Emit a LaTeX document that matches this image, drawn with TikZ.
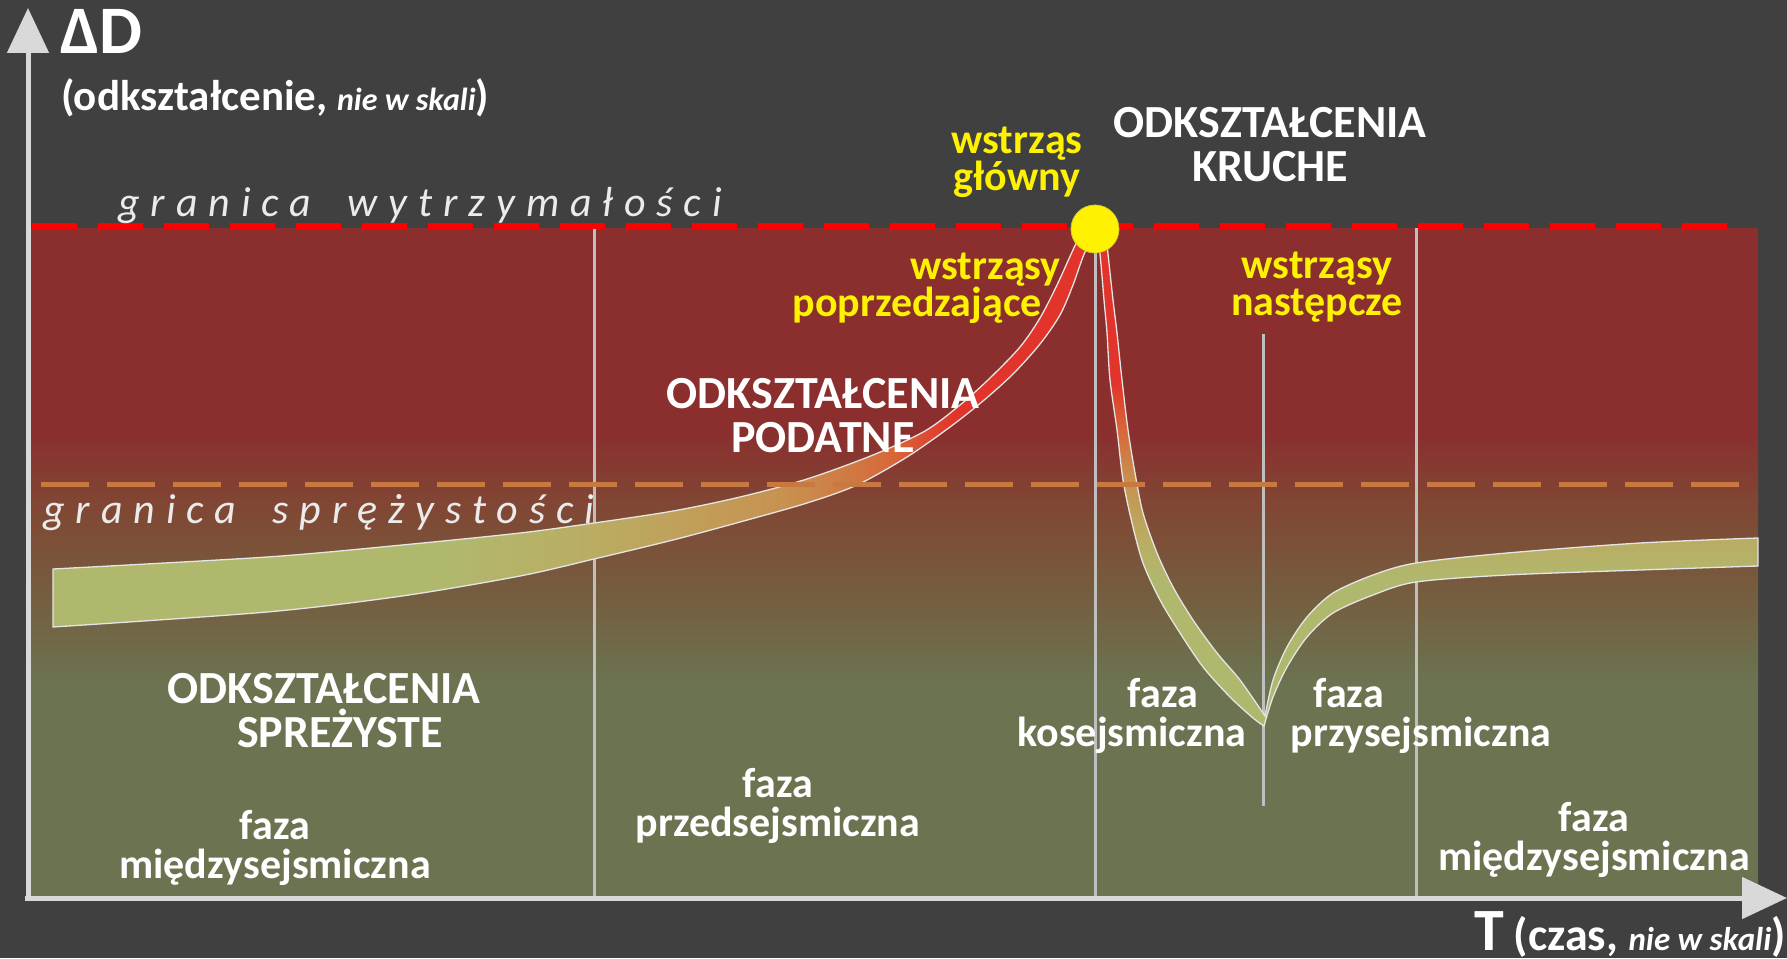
\documentclass[tikz,border=0pt]{standalone}
\usepackage{fontspec}
\setmainfont{Carlito}
\newfontfamily\spacedfont[LetterSpace=26]{Carlito}
\usetikzlibrary{positioning,arrows.meta}

\definecolor{bggray}{RGB}{64,64,64}
\definecolor{zonered}{RGB}{138,46,46}
\definecolor{zonebrown}{RGB}{128,72,52}
\definecolor{zonemid}{RGB}{118,92,62}
\definecolor{zonegreen}{RGB}{107,115,80}
\definecolor{bandgreen}{RGB}{176,184,110}
\definecolor{bandkhaki}{RGB}{186,172,98}
\definecolor{bandtan}{RGB}{200,145,80}
\definecolor{bandorange}{RGB}{214,105,58}
\definecolor{bandred}{RGB}{226,52,42}
\definecolor{elasticdash}{RGB}{200,121,66}
\definecolor{linegray}{RGB}{191,191,191}
\definecolor{axisgray}{RGB}{217,217,217}

\pgfdeclareverticalshading{zoneshade}{100bp}{color(0bp)=(zonegreen); color(41bp)=(zonegreen); color(48bp)=(zonemid); color(54bp)=(zonebrown); color(60bp)=(zonered); color(100bp)=(zonered)}
\pgfdeclarehorizontalshading{riseshade}{100bp}{color(0bp)=(bandgreen); color(44bp)=(bandgreen); color(51bp)=(bandkhaki); color(60bp)=(bandtan); color(65bp)=(bandorange); color(68bp)=(bandred); color(100bp)=(bandred)}
\pgfdeclareverticalshading{dropshade}{100bp}{color(0bp)=(bandgreen); color(40bp)=(bandgreen); color(44bp)=(bandkhaki); color(50bp)=(bandtan); color(55bp)=(bandorange); color(60bp)=(bandred); color(100bp)=(bandred)}

\begin{document}
\begin{tikzpicture}[x=1pt, y=-1pt,
  phase/.style={text=white, font=\bfseries\fontsize{42}{39}\selectfont, align=center, inner sep=0pt},
  regime/.style={text=white, font=\bfseries\fontsize{46}{44}\selectfont, align=center, inner sep=0pt},
  quake/.style={text=yellow, font=\bfseries\fontsize{42}{37}\selectfont, align=center, inner sep=0pt},
  limitlabel/.style={text=white!92!black, font=\spacedfont\itshape\fontsize{42}{42}\selectfont, inner sep=0pt, anchor=base west},
  phaseline/.style={draw=linegray, line width=3pt},
  axisline/.style={draw=axisgray, line width=5pt, -{Triangle[length=45pt,width=41pt]}},
  band/.style={draw=white!90!black, line width=1.3pt}]
\useasboundingbox (0,0) rectangle (1787,958);
\fill[bggray] (0,0) rectangle (1787,958);

% strefy odksztalcen
\shade[shading=zoneshade] (30,228) rectangle (1758,896);

% granice faz
\coordinate (origin) at (28,898);
\coordinate (ytip) at (28,8);
\coordinate (xtip) at (1787,898);
\node [circle, fill=yellow, draw=yellow!75!black, line width=0.6pt, minimum size=48pt, inner sep=0pt] (mainshock) at (1095,229) {};
\draw[phaseline] (594,228) -- (594,896);
\draw[phaseline] (mainshock.south) -- (mainshock.south |- origin);
\draw[phaseline] (1416,228) -- (1416,896);
\draw[phaseline] (1263,334) -- (1263,806);

% krzywa odksztalcenia
\shadedraw[shading=riseshade, band]
  plot[smooth] coordinates {(53,569) (267,557) (402,545) (520,533) (594,523) (673,511) (740,497) (807,479) (873,455) (925,431) (960,405) (990,378) (1020,347) (1040,318) (1057,285) (1072,252) (1086,222)}
  -- plot[smooth] coordinates {(1100,226) (1085,252) (1073,285) (1060,315) (1040,344) (1013,374) (983,401) (950,427) (907,457) (857,485) (807,503) (740,522) (673,540) (594,559) (520,576) (402,596) (267,612) (53,627)}
  -- cycle;
\shadedraw[shading=dropshade, band]
  plot[smooth] coordinates {(1097,235) (1100,254) (1104,300) (1107,333) (1110,380) (1117,430) (1123,480) (1132,523) (1143,563) (1160,600) (1180,633) (1203,667) (1230,697) (1253,718) (1264,726)}
  -- plot[smooth] coordinates {(1264,726) (1273,697) (1287,667) (1307,637) (1333,613) (1373,595) (1416,582) (1507,575) (1640,570) (1758,566)}
  -- plot[smooth] coordinates {(1758,538) (1640,543) (1507,553) (1416,563) (1373,575) (1333,593) (1307,617) (1287,647) (1273,680) (1265,716)}
  -- plot[smooth] coordinates {(1265,716) (1240,680) (1217,653) (1193,620) (1173,587) (1157,553) (1143,513) (1135,473) (1128,430) (1122,380) (1117,333) (1113,300) (1108,254) (1106,235)}
  -- cycle;

% granice
\draw[red, line width=6pt, dash pattern=on 45pt off 21pt] (32,226) -- (1729,226);
\draw[elasticdash, line width=5pt, dash pattern=on 48pt off 18pt] (41,484) -- (1739,484);
\node [circle, fill=yellow, draw=yellow!75!black, line width=0.6pt, minimum size=48pt, inner sep=0pt] at (mainshock) {};

% osie
\draw[axisline] (origin) -- (ytip);
\draw[axisline] (25,898) -- (xtip);

% opisy
\node [anchor=base west, inner sep=0pt, text=white, font=\bfseries\fontsize{68}{68}\selectfont] (dlabel) at (60,53) {ΔD};
\node [anchor=base west, inner sep=0pt, text=white, font=\bfseries\fontsize{43}{43}\selectfont] (dunit) at (61,110) {(odkształcenie, {\itshape\fontsize{32}{32}\selectfont nie w skali})};
\node [anchor=base west, inner sep=0pt, text=white, font=\bfseries\fontsize{60}{60}\selectfont] (tlabel) at (1474,950) {T\hspace{10pt}\fontsize{46}{46}\selectfont(czas, {\itshape\fontsize{33}{33}\selectfont nie w skali})};
\node [limitlabel] (ultimate) at (118,216) {granica\hspace{16pt} wytrzymałości};
\node [limitlabel] (elastic) at (43,523) {granica\hspace{16pt} sprężystości};

\node [quake] (mainlabel) at (1017,162) {wstrząs\\główny};
\node [quake, align=right, anchor=east] (foreshocks) at (1061,288) {wstrząsy\\poprzedzające\hspace*{19pt}};
\node [quake] (aftershocks) at (1317,287) {wstrząsy\\następcze};

\node [regime] (brittle) at (1270,145) {ODKSZTAŁCENIA\\KRUCHE};
\node [regime] (ductile) at (823,416) {ODKSZTAŁCENIA\\PODATNE};
\node [regime] (elasticzone) at (324,711) {ODKSZTAŁCENIA\\\hspace*{32pt}SPREŻYSTE};

\node [phase] (interleft) at (275,848) {faza\\międzysejsmiczna};
\node [phase] (pre) at (778,806) {faza\\przedsejsmiczna};
\node [phase] (co) at (1132,716) {\hspace*{62pt}faza\\kosejsmiczna};
\node [phase, align=left] (post) at (1421,716) {\hspace*{23pt}faza\\przysejsmiczna};
\node [phase] (interright) at (1594,840) {faza\\międzysejsmiczna};
\end{tikzpicture}
\end{document}
